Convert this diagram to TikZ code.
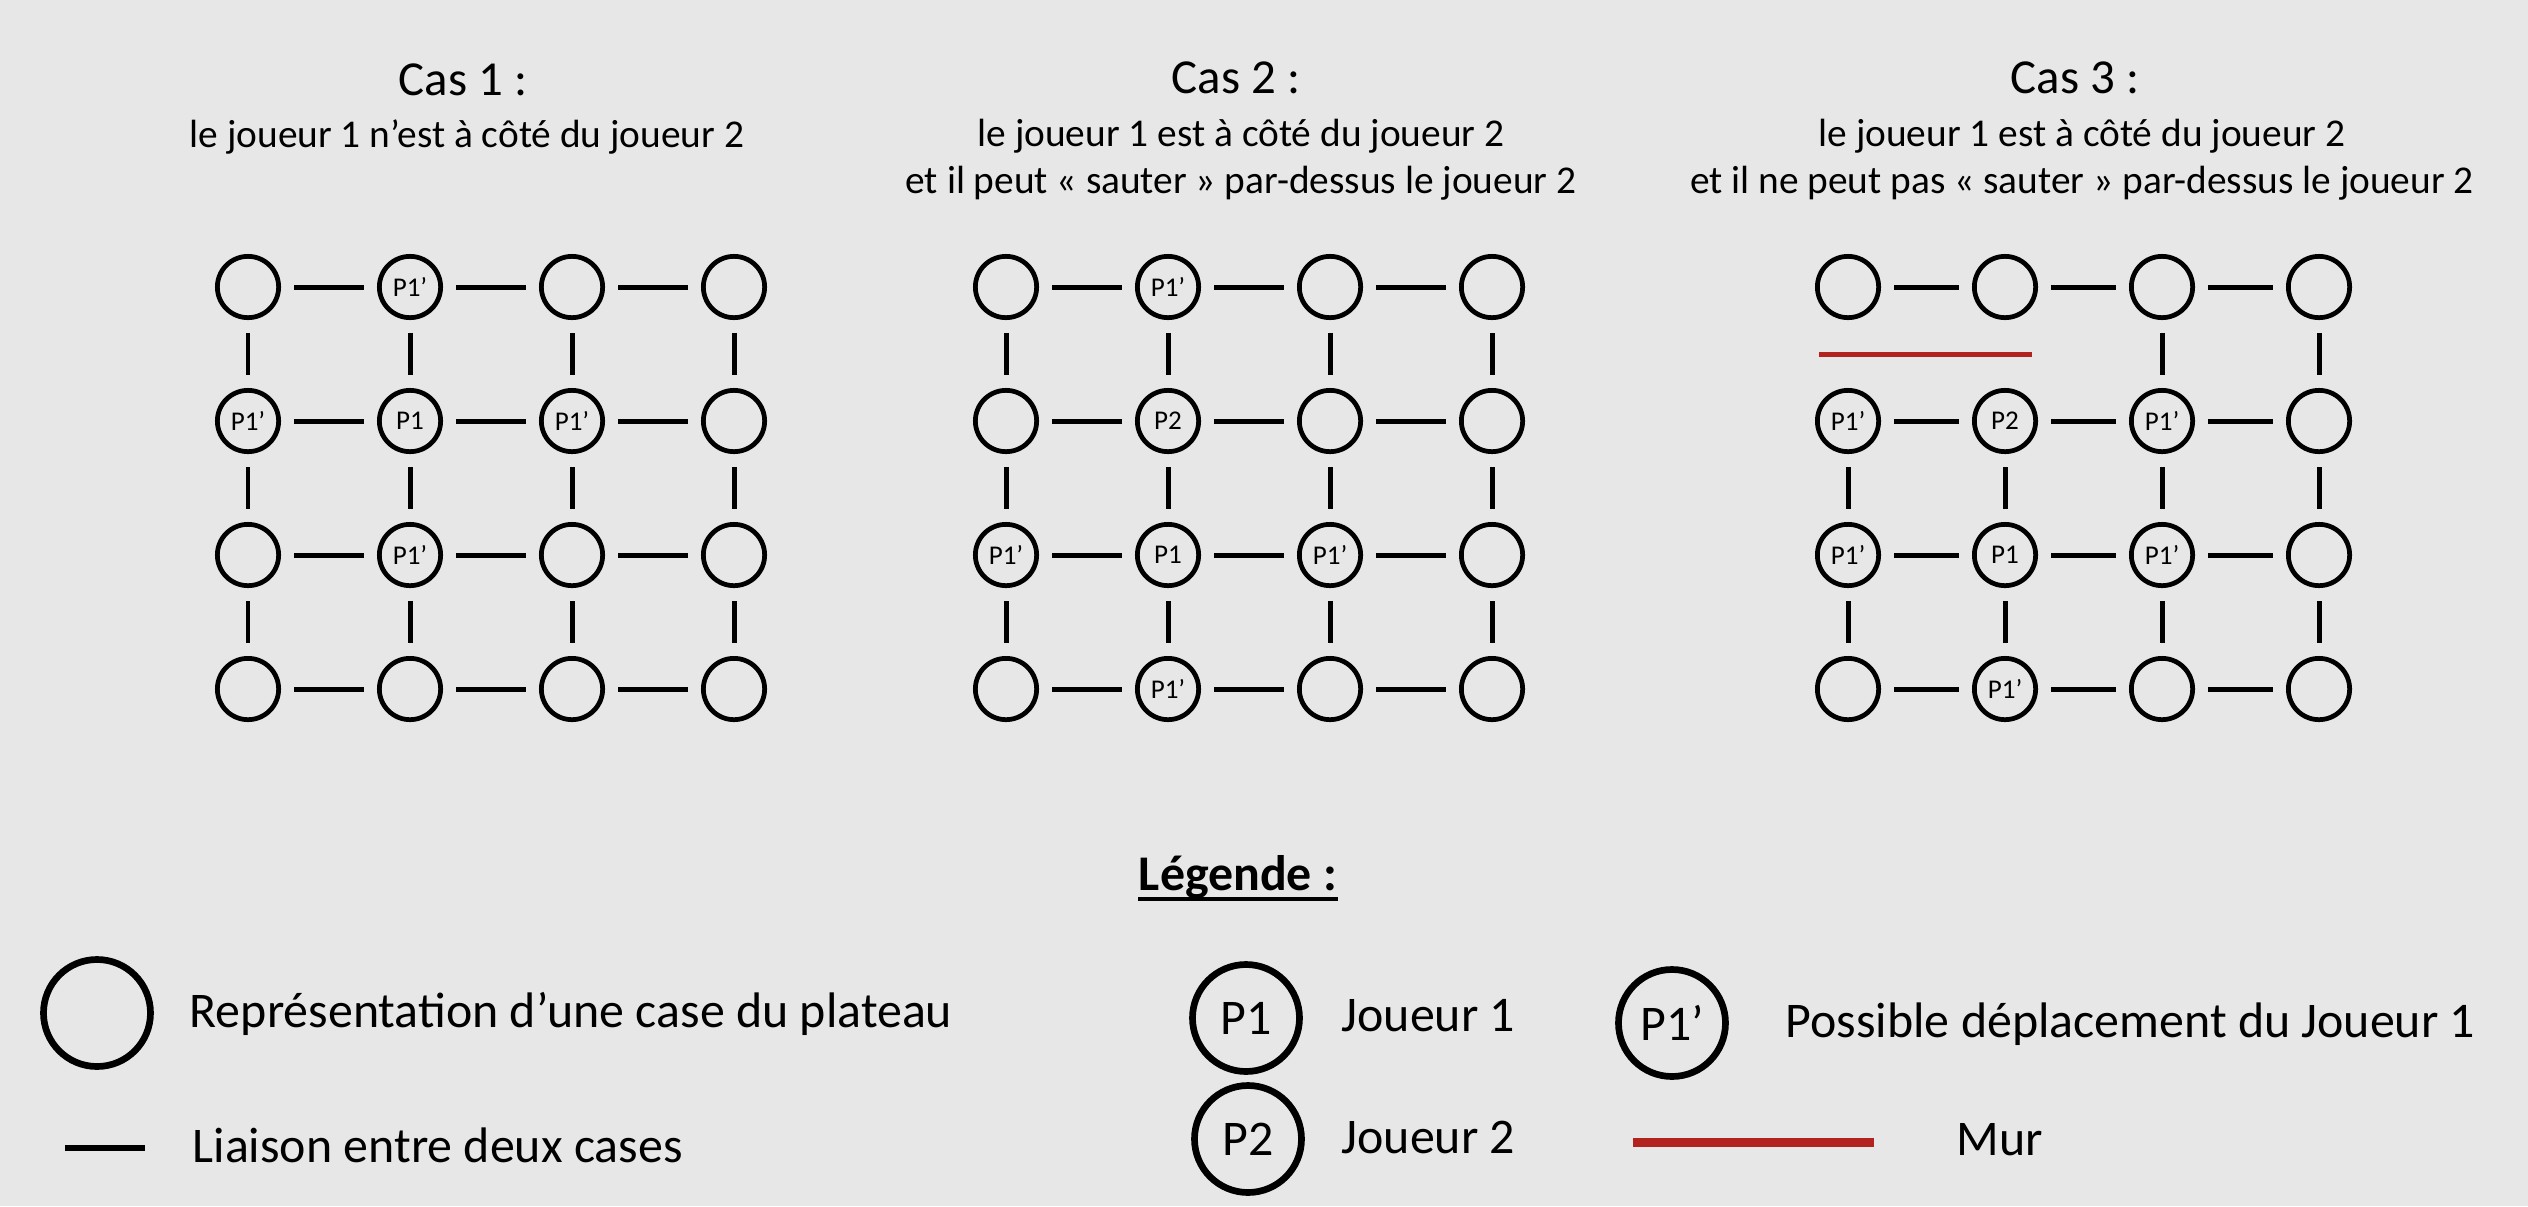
\documentclass[tikz,border=0pt]{standalone}
\usepackage{amsmath, amssymb}
\usepackage{fontspec}
\setmainfont{Carlito}
\usepackage{tikz}
\definecolor{fond}{RGB}{231,231,231}
\definecolor{mur}{RGB}{178,34,30}

\begin{document}
\begin{tikzpicture}
\tikzset{cell/.style = {shape=circle,draw,line width=1.35pt,minimum size=0.613cm,inner sep=0pt,font=\fontsize{7.7}{9}\selectfont},
bigcell/.style = {shape=circle,draw,line width=1.9pt,minimum size=1.07cm,inner sep=0pt,font=\fontsize{14.2}{17}\selectfont},
link/.style = {line width=1.42pt,shorten <=0.13cm,shorten >=0.13cm},
wall/.style = {draw=mur,line width=1.42pt},
title/.style = {anchor=base,inner sep=0pt,font=\fontsize{13.9}{17}\selectfont},
sub/.style = {anchor=base,inner sep=0pt,font=\fontsize{11.2}{13.7}\selectfont},
legtext/.style = {anchor=base west,inner sep=0pt,font=\fontsize{14.2}{17}\selectfont}}
\fill[fond] (0,0) rectangle (25.28,-12.06);
\useasboundingbox (0,0) rectangle (25.28,-12.06);

% titles
\node[title] (t1) at (4.63,-0.95) {Cas 1 :};
\node[sub] (s1) at (4.67,-1.47) {le joueur 1 n’est à côté du joueur 2};
\node[title] (t2) at (12.36,-0.93) {Cas 2 :};
\node[sub] (s2a) at (12.41,-1.46) {le joueur 1 est à côté du joueur 2};
\node[sub] (s2b) at (12.41,-1.935) {et il peut « sauter » par-dessus le joueur 2};
\node[title] (t3) at (20.75,-0.93) {Cas 3 :};
\node[sub] (s3a) at (20.82,-1.46) {le joueur 1 est à côté du joueur 2};
\node[sub] (s3b) at (20.82,-1.935) {et il ne peut pas « sauter » par-dessus le joueur 2};

% cas 1
\node[cell] (a11) at (2.48,-2.87) {};
\node[cell] (a12) at (4.10,-2.87) {P1’};
\node[cell] (a13) at (5.72,-2.87) {};
\node[cell] (a14) at (7.34,-2.87) {};
\node[cell] (a21) at (2.48,-4.21) {P1’};
\node[cell] (a22) at (4.10,-4.21) {P1};
\node[cell] (a23) at (5.72,-4.21) {P1’};
\node[cell] (a24) at (7.34,-4.21) {};
\node[cell] (a31) at (2.48,-5.55) {};
\node[cell] (a32) at (4.10,-5.55) {P1’};
\node[cell] (a33) at (5.72,-5.55) {};
\node[cell] (a34) at (7.34,-5.55) {};
\node[cell] (a41) at (2.48,-6.89) {};
\node[cell] (a42) at (4.10,-6.89) {};
\node[cell] (a43) at (5.72,-6.89) {};
\node[cell] (a44) at (7.34,-6.89) {};

% cas 2
\node[cell] (b11) at (10.06,-2.87) {};
\node[cell] (b12) at (11.68,-2.87) {P1’};
\node[cell] (b13) at (13.30,-2.87) {};
\node[cell] (b14) at (14.92,-2.87) {};
\node[cell] (b21) at (10.06,-4.21) {};
\node[cell] (b22) at (11.68,-4.21) {P2};
\node[cell] (b23) at (13.30,-4.21) {};
\node[cell] (b24) at (14.92,-4.21) {};
\node[cell] (b31) at (10.06,-5.55) {P1’};
\node[cell] (b32) at (11.68,-5.55) {P1};
\node[cell] (b33) at (13.30,-5.55) {P1’};
\node[cell] (b34) at (14.92,-5.55) {};
\node[cell] (b41) at (10.06,-6.89) {};
\node[cell] (b42) at (11.68,-6.89) {P1’};
\node[cell] (b43) at (13.30,-6.89) {};
\node[cell] (b44) at (14.92,-6.89) {};

% cas 3
\node[cell] (c11) at (18.48,-2.87) {};
\node[cell] (c12) at (20.05,-2.87) {};
\node[cell] (c13) at (21.62,-2.87) {};
\node[cell] (c14) at (23.19,-2.87) {};
\node[cell] (c21) at (18.48,-4.21) {P1’};
\node[cell] (c22) at (20.05,-4.21) {P2};
\node[cell] (c23) at (21.62,-4.21) {P1’};
\node[cell] (c24) at (23.19,-4.21) {};
\node[cell] (c31) at (18.48,-5.55) {P1’};
\node[cell] (c32) at (20.05,-5.55) {P1};
\node[cell] (c33) at (21.62,-5.55) {P1’};
\node[cell] (c34) at (23.19,-5.55) {};
\node[cell] (c41) at (18.48,-6.89) {};
\node[cell] (c42) at (20.05,-6.89) {P1’};
\node[cell] (c43) at (21.62,-6.89) {};
\node[cell] (c44) at (23.19,-6.89) {};

%edges
\foreach \g in {a,b,c}
  \foreach \r in {1,...,4}
    \foreach \c [count=\n from 2] in {1,2,3}
      \path (\g\r\c) edge[link] (\g\r\n);
\foreach \g in {a,b}
  \foreach \c in {1,...,4}
    \foreach \r [count=\n from 2] in {1,2,3}
      \path (\g\r\c) edge[link] (\g\n\c);
\foreach \c in {3,4}
  \path (c1\c) edge[link] (c2\c);
\foreach \c in {1,...,4}
  \foreach \r [count=\n from 3] in {2,3}
    \path (c\r\c) edge[link] (c\n\c);

% mur
\coordinate (w1) at (18.19,-3.54);
\coordinate (w2) at (20.32,-3.54);
\draw[wall] (w1) -- (w2);

% legende
\node[anchor=base,inner sep=0pt,font=\bfseries\fontsize{14.2}{17}\selectfont] (leg) at (12.38,-8.90) {Légende :};
\draw[line width=1.14pt] ([yshift=-0.085cm]leg.base west) -- ([yshift=-0.085cm]leg.base east);
\node[bigcell] (l1) at (0.97,-10.13) {};
\node[legtext] (l1t) at (1.89,-10.27) {Représentation d’une case du plateau};
\coordinate (k1) at (0.65,-11.48);
\coordinate (k2) at (1.45,-11.48);
\draw[line width=1.56pt] (k1) -- (k2);
\node[legtext] (l2t) at (1.92,-11.62) {Liaison entre deux cases};
\node[bigcell] (p1) at (12.46,-10.18) {P1};
\node[legtext] (p1t) at (13.41,-10.31) {Joueur 1};
\node[bigcell] (p1b) at (16.72,-10.23) {P1’};
\node[legtext] (p1bt) at (17.85,-10.37) {Possible déplacement du Joueur 1};
\node[bigcell] (p2) at (12.48,-11.39) {P2};
\node[legtext] (p2t) at (13.41,-11.53) {Joueur 2};
\coordinate (m1) at (16.33,-11.42);
\coordinate (m2) at (18.74,-11.42);
\draw[wall,line width=2.56pt] (m1) -- (m2);
\node[legtext] (mt) at (19.56,-11.55) {Mur};
\end{tikzpicture}
\end{document}
